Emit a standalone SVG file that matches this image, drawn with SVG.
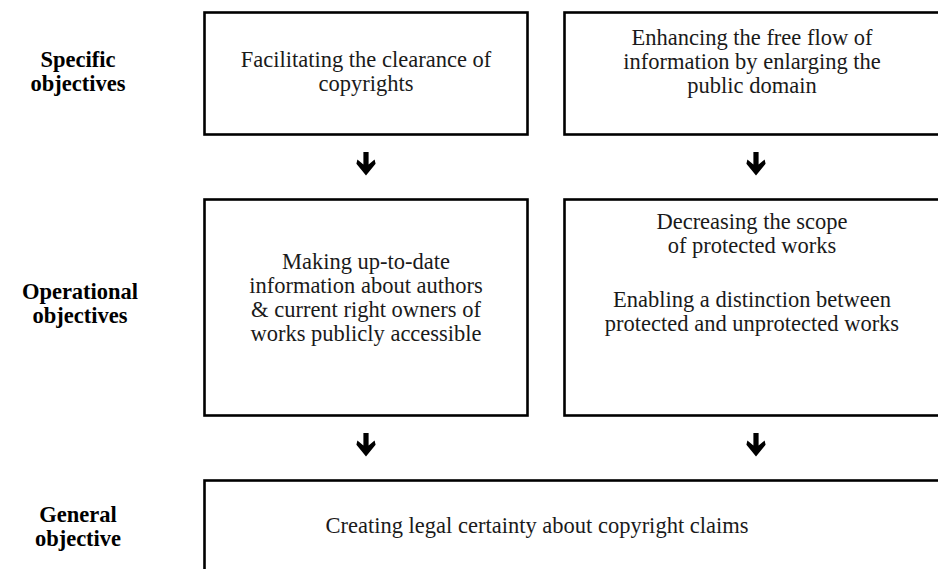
<svg xmlns="http://www.w3.org/2000/svg" width="938" height="569" viewBox="0 0 938 569">
  <defs>
    <style>
      .box { fill: #ffffff; stroke: #000000; stroke-width: 2.6; }
      .txt { font-family: "Liberation Serif", "Times New Roman", serif; font-size: 22.5px; fill: #1a1a1a; text-anchor: middle; }
      .lbl { font-family: "Liberation Serif", "Times New Roman", serif; font-size: 22.5px; font-weight: bold; fill: #000000; text-anchor: middle; }
      .arrow { fill: #000000; }
    </style>
    <!-- heavy down arrow, origin at its centre top -->
    <path id="down" d="M-2.6,0 H2.6 V12.5 L8.6,7.5 L9.6,11.8 L0,23.5 L-9.6,11.8 L-8.6,7.5 L-2.6,12.5 Z"/>
  </defs>
  <rect width="938" height="569" fill="#ffffff"/>

  <!-- row labels -->
  <g id="label-specific">
    <text class="lbl" x="78" y="67">Specific</text>
    <text class="lbl" x="78" y="91">objectives</text>
  </g>
  <g id="label-operational">
    <text class="lbl" x="80" y="299">Operational</text>
    <text class="lbl" x="80" y="323">objectives</text>
  </g>
  <g id="label-general">
    <text class="lbl" x="78" y="522">General</text>
    <text class="lbl" x="78" y="546">objective</text>
  </g>

  <!-- specific objectives -->
  <g id="node-clearance">
    <rect class="box" x="204.5" y="12.5" width="323" height="122"/>
    <text class="txt" x="366" y="67">Facilitating the clearance of</text>
    <text class="txt" x="366" y="91">copyrights</text>
  </g>
  <g id="node-free-flow">
    <rect class="box" x="564.5" y="12.5" width="383" height="122"/>
    <text class="txt" x="752" y="45">Enhancing the free flow of</text>
    <text class="txt" x="752" y="69">information by enlarging the</text>
    <text class="txt" x="752" y="93">public domain</text>
  </g>

  <!-- operational objectives -->
  <g id="node-information">
    <rect class="box" x="204.5" y="199.5" width="323" height="216"/>
    <text class="txt" x="366" y="269">Making up-to-date</text>
    <text class="txt" x="366" y="293">information about authors</text>
    <text class="txt" x="366" y="317">&amp; current right owners of</text>
    <text class="txt" x="366" y="341">works publicly accessible</text>
  </g>
  <g id="node-scope">
    <rect class="box" x="564.5" y="199.5" width="383" height="216"/>
    <text class="txt" x="752" y="229">Decreasing the scope</text>
    <text class="txt" x="752" y="253">of protected works</text>
    <text class="txt" x="752" y="307">Enabling a distinction between</text>
    <text class="txt" x="752" y="331">protected and unprotected works</text>
  </g>

  <!-- general objective -->
  <g id="node-legal-certainty">
    <rect class="box" x="204.5" y="480.5" width="743" height="100"/>
    <text class="txt" x="537" y="533">Creating legal certainty about copyright claims</text>
  </g>

  <!-- connectors -->
  <g id="connectors" class="arrow">
    <use href="#down" x="366" y="152"/>
    <use href="#down" x="756" y="152"/>
    <use href="#down" x="366" y="433"/>
    <use href="#down" x="756" y="433"/>
  </g>
</svg>
